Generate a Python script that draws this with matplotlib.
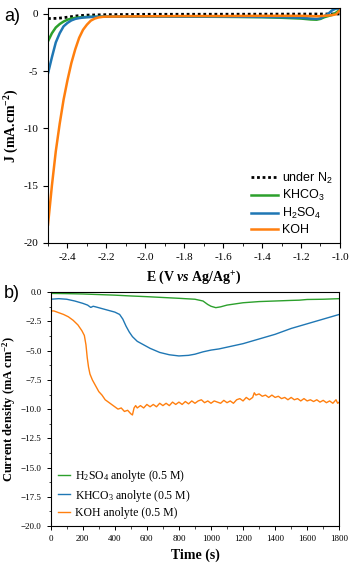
import matplotlib
matplotlib.use("Agg")
import matplotlib.pyplot as plt
from matplotlib.ticker import MultipleLocator, FuncFormatter

# ---- panel a: LSV curves ----
E = [-2.50, -2.48, -2.46, -2.44, -2.42, -2.40, -2.38, -2.36, -2.34, -2.32,
     -2.30, -2.28, -2.26, -2.24, -2.22, -2.20, -2.00, -1.80, -1.60, -1.40,
     -1.30, -1.20, -1.15, -1.12, -1.10, -1.08, -1.06, -1.04, -1.02, -1.00]
J_khco3 = [-2.4, -1.7, -1.2, -0.9, -0.68, -0.52, -0.42, -0.36, -0.32, -0.30,
           -0.28, -0.27, -0.27, -0.26, -0.26, -0.26, -0.25, -0.25, -0.27, -0.30,
           -0.35, -0.42, -0.50, -0.52, -0.45, -0.30, -0.20, -0.10, 0.10, 0.35]
J_h2so4 = [-5.2, -3.8, -2.5, -1.7, -1.1, -0.8, -0.58, -0.45, -0.38, -0.33,
           -0.30, -0.28, -0.27, -0.26, -0.25, -0.25, -0.25, -0.25, -0.25, -0.28,
           -0.30, -0.35, -0.42, -0.45, -0.40, -0.20, 0.0, 0.30, 0.45, 0.45]
J_koh = [-18.4, -15.0, -12.0, -9.6, -7.5, -5.8, -4.3, -3.1, -2.1, -1.4,
         -0.95, -0.6, -0.42, -0.32, -0.27, -0.25, -0.22, -0.20, -0.20, -0.18,
         -0.18, -0.18, -0.20, -0.22, -0.20, -0.18, -0.15, -0.12, -0.05, 0.30]
E_n2 = [-2.50, -2.45, -2.40, -2.35, -2.30, -2.20, -2.00, -1.50, -1.00]
J_n2 = [-0.42, -0.40, -0.30, -0.18, -0.12, -0.08, -0.05, -0.04, -0.02]

# ---- panel b: chronoamperometry ----
t_h2so4 = [0, 100, 200, 300, 400, 500, 600, 700, 800, 900, 950, 980, 1000, 1030,
           1060, 1100, 1150, 1200, 1300, 1400, 1500, 1550, 1600, 1700, 1800]
i_h2so4 = [-0.1, -0.12, -0.15, -0.2, -0.25, -0.32, -0.38, -0.45, -0.52, -0.6,
           -0.75, -1.05, -1.2, -1.32, -1.25, -1.1, -1.0, -0.9, -0.8, -0.75,
           -0.7, -0.68, -0.62, -0.6, -0.55]
t_khco3 = [0, 50, 100, 150, 200, 230, 250, 265, 280, 320, 360, 400, 430, 450, 470,
           490, 510, 540, 580, 620, 680, 740, 800, 860, 900, 950, 1000, 1050, 1100,
           1200, 1300, 1400, 1500, 1600, 1700, 1800]
i_khco3 = [-0.6, -0.55, -0.6, -0.75, -0.95, -1.1, -1.3, -1.2, -1.25, -1.4, -1.55,
           -1.7, -1.9, -2.3, -2.9, -3.4, -3.8, -4.2, -4.5, -4.8, -5.15, -5.35, -5.45,
           -5.4, -5.3, -5.1, -4.95, -4.85, -4.7, -4.4, -4.0, -3.6, -3.1, -2.7, -2.3, -1.9]
t_koh = [0, 20, 50, 80, 110, 140, 170, 195, 210, 220, 228, 236, 245, 260, 280,
         300, 320, 340, 360, 380, 400, 420, 440, 460, 480, 500, 510, 520, 530, 540,
         560, 580, 600, 620, 640, 660, 680, 700, 720, 740, 760, 780, 800, 820, 840,
         860, 880, 900, 920, 940, 960, 980, 1000, 1020, 1040, 1060, 1080, 1100, 1120,
         1140, 1160, 1180, 1200, 1220, 1240, 1260, 1270, 1280, 1300, 1320, 1340, 1360,
         1380, 1400, 1420, 1440, 1460, 1480, 1500, 1520, 1540, 1560, 1580, 1600, 1620,
         1640, 1660, 1680, 1700, 1720, 1740, 1760, 1780, 1790, 1800]
i_koh = [-1.6, -1.6, -1.75, -1.9, -2.1, -2.4, -2.8, -3.3, -3.7, -4.5, -5.6, -6.4,
         -7.0, -7.5, -8.0,
         -8.5, -8.8, -9.2, -9.4, -9.6, -9.8, -10.0, -9.9, -10.2, -10.1, -10.4, -10.5,
         -9.9, -9.7, -9.9, -9.7, -9.9, -9.6, -9.8, -9.6, -9.8, -9.5, -9.7, -9.5, -9.7,
         -9.4, -9.6, -9.4, -9.6, -9.35, -9.55, -9.3, -9.5, -9.3, -9.2, -9.45, -9.3,
         -9.5, -9.3, -9.4, -9.5, -9.25, -9.45, -9.3, -9.5, -9.2, -9.1, -9.3, -9.0,
         -9.2, -9.0, -8.6, -8.8, -8.7, -8.9, -8.8, -9.0, -8.8, -9.0, -8.9, -9.1, -9.0,
         -9.2, -9.0, -9.2, -9.1, -9.3, -9.1, -9.3, -9.2, -9.35, -9.2, -9.4, -9.25,
         -9.45, -9.3, -9.5, -9.2, -9.5, -9.4]

GREEN = "#2ca02c"
BLUE = "#1f77b4"
ORANGE = "#ff7f0e"
SERIF = "Liberation Serif"
SANS = "Liberation Sans"

plt.rcParams["mathtext.fontset"] = "custom"
plt.rcParams["mathtext.rm"] = SERIF
plt.rcParams["mathtext.it"] = SERIF + ":italic"
plt.rcParams["mathtext.bf"] = SERIF + ":bold"
plt.rcParams["mathtext.bfit"] = SERIF + ":italic:bold"

fig = plt.figure(figsize=(3.53, 5.73), dpi=100)

# ---------- a) ----------
ax1 = fig.add_axes([0.136, 0.576, 0.827, 0.410])
ax1.plot(E_n2, J_n2, color="black", ls=(0, (1, 1)), lw=2.0,
         label="under N$\\mathregular{_2}$")
ax1.plot(E, J_khco3, color=GREEN, lw=1.8, label="KHCO$\\mathregular{_3}$")
ax1.plot(E, J_h2so4, color=BLUE, lw=1.8,
         label="H$\\mathregular{_2}$SO$\\mathregular{_4}$")
ax1.plot(E, J_koh, color=ORANGE, lw=1.8, label="KOH")
ax1.set_xlim(-2.5, -1.0)
ax1.set_ylim(-20, 0.5)
ax1.xaxis.set_major_locator(MultipleLocator(0.2))
ax1.xaxis.set_minor_locator(MultipleLocator(0.1))
ax1.yaxis.set_major_locator(MultipleLocator(5))
ax1.xaxis.set_major_formatter(FuncFormatter(lambda v, p: f"{v:.1f}"))
ax1.yaxis.set_major_formatter(FuncFormatter(lambda v, p: f"{v:.0f}"))
ax1.tick_params(which="major", length=3.5, width=0.8, labelsize=8)
ax1.tick_params(which="minor", length=2, width=0.6)
for lab in ax1.get_xticklabels() + ax1.get_yticklabels():
    lab.set_family(SERIF)
ax1.set_xlabel("E (V $\\mathbfit{vs}$ Ag/Ag$^{\\mathbf{+}}$)", family=SERIF,
               fontweight="bold", fontsize=10, labelpad=5)
ax1.set_ylabel("J (mA.cm$^{\\mathbf{-2}}$)", family=SERIF, fontweight="bold",
               fontsize=10, labelpad=2)
ax1.legend(loc="lower right", frameon=False, prop={"family": SANS, "size": 9},
           handlelength=2.2, handletextpad=0.3, labelspacing=0.22,
           borderaxespad=0.15)
fig.text(0.012, 0.972, "a)", family=SANS, fontsize=13, va="center")

# ---------- b) ----------
ax2 = fig.add_axes([0.1436, 0.082, 0.8174, 0.408])
ax2.plot(t_h2so4, i_h2so4, color=GREEN, lw=1.0,
         label="H$_2$SO$_4$ anolyte (0.5 M)")
ax2.plot(t_khco3, i_khco3, color=BLUE, lw=1.0, label="KHCO$_3$ anolyte (0.5 M)")
ax2.plot(t_koh, i_koh, color=ORANGE, lw=1.0, label="KOH anolyte (0.5 M)")
ax2.set_xlim(0, 1800)
ax2.set_ylim(-20, 0)
ax2.xaxis.set_major_locator(MultipleLocator(200))
ax2.xaxis.set_minor_locator(MultipleLocator(100))
ax2.yaxis.set_major_locator(MultipleLocator(2.5))
ax2.yaxis.set_minor_locator(MultipleLocator(1.25))
ax2.tick_params(which="major", length=3, width=0.7, labelsize=6.5)
ax2.tick_params(which="minor", length=1.8, width=0.5)
for lab in ax2.get_xticklabels() + ax2.get_yticklabels():
    lab.set_family(SERIF)
ax2.set_xlabel("Time (s)", family=SERIF, fontweight="bold", fontsize=10, labelpad=4)
ax2.set_ylabel("Current density (mA cm$^{\\mathbf{-2}}$)", family=SERIF,
               fontweight="bold", fontsize=9, labelpad=2)
ax2.legend(loc="lower left", frameon=False, prop={"family": SERIF, "size": 8.5},
           handlelength=1.0, handletextpad=0.5, labelspacing=0.28,
           borderaxespad=0.3, borderpad=0.3)
fig.text(0.012, 0.488, "b)", family=SANS, fontsize=13, va="center")

for ax in (ax1, ax2):
    for s in ax.spines.values():
        s.set_linewidth(0.8)

fig.savefig("out.png", dpi=100)
